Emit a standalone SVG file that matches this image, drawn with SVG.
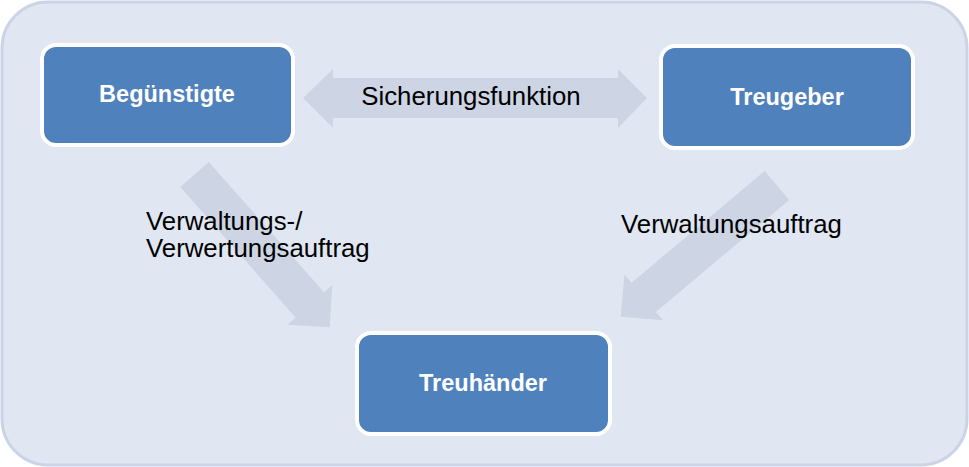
<svg xmlns="http://www.w3.org/2000/svg" width="969" height="467" viewBox="0 0 969 467">
<style>
.node rect{fill:#4F81BD;stroke:#FFFFFF;stroke-width:4}
.node text{font-family:"Liberation Sans",Arial,sans-serif;font-weight:bold;font-size:23.5px;fill:#FFFFFF;text-anchor:middle}
.conn{fill:#CDD5E5}
.lbl{font-family:"Liberation Sans",Arial,sans-serif;font-size:25.8px;fill:#000000}
</style>
<defs>
<polygon id="diag" points="0,-19 174,-19 174,-30 204,0 174,30 174,19 0,19"/>
</defs>
<rect id="background" x="2" y="2" width="965" height="463" rx="46" ry="46" fill="#E0E7F2" stroke="#CBD4E6" stroke-width="3"/>
<g id="connectors">
<polygon class="conn" points="303,98 333,69 333,78 618,78 618,69 647,98 618,128 618,118 333,118 333,128"/>
<use href="#diag" class="conn" transform="translate(194.5,174.5) rotate(48.5)"/>
<use href="#diag" class="conn" transform="translate(777,185.5) rotate(140)"/>
</g>
<g id="labels">
<text class="lbl" x="471" y="105" text-anchor="middle">Sicherungsfunktion</text>
<text class="lbl" x="146" y="230">Verwaltungs-/</text>
<text class="lbl" x="146" y="257">Verwertungsauftrag</text>
<text class="lbl" x="621" y="233">Verwaltungsauftrag</text>
</g>
<g id="node-beguenstigte" class="node">
<rect x="42" y="45" width="251" height="100" rx="14" ry="14"/>
<text x="167" y="102">Begünstigte</text>
</g>
<g id="node-treugeber" class="node">
<rect x="661" y="46" width="252" height="102" rx="14" ry="14"/>
<text x="787" y="105">Treugeber</text>
</g>
<g id="node-treuhaender" class="node">
<rect x="357" y="333" width="253" height="101" rx="14" ry="14"/>
<text x="483" y="391">Treuhänder</text>
</g>
</svg>
